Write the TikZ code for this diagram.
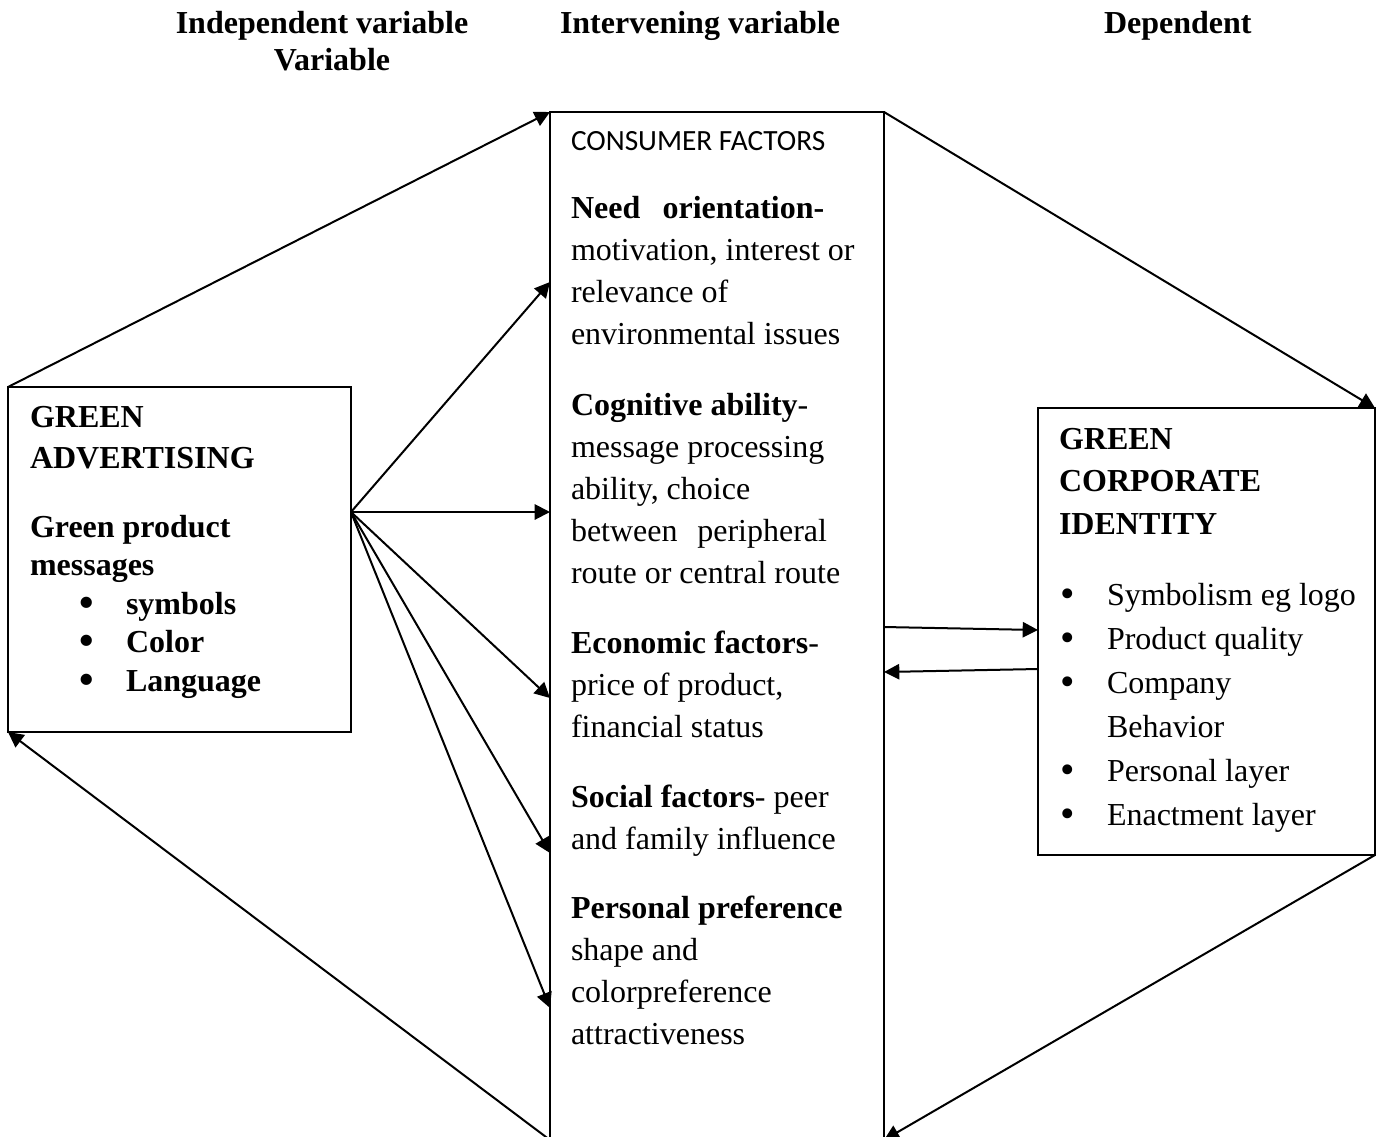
\documentclass[tikz,border=0pt]{standalone}
\usepackage{fontspec}
\setmainfont{Liberation Serif}
\newfontfamily\calibri{Carlito}
\usetikzlibrary{arrows.meta}
\newcommand{\bul}{{\fontsize{31}{31}\selectfont\raisebox{-1.5pt}{•}}}
\begin{document}
\begin{tikzpicture}[x=0.75pt,y=-0.75pt,
  box/.style={draw, line width=1.5pt, inner sep=0pt, outer sep=0pt},
  arr/.style={line width=1.5pt, -{Triangle[length=11.5pt,width=11.5pt]}},
  txt/.style={inner sep=0pt, outer sep=0pt, anchor=base west, font=\fontsize{24}{31.5}\selectfont},
  hdr/.style={inner sep=0pt, outer sep=0pt, anchor=base, font=\fontsize{24}{28}\selectfont\bfseries}]
\useasboundingbox (0,0) rectangle (1377,1136);
\clip (0,0) rectangle (1377,1136);

% boxes
\node[box, minimum width=257.25pt, minimum height=258.75pt] (lb) at (179.5,559.5) {};
\node[box, minimum width=250.5pt, minimum height=771pt] (mid) at (717,626) {};
\node[box, minimum width=252.75pt, minimum height=335.25pt] (rb) at (1206.5,631.5) {};

% headers
\node[hdr] (h1) at (322,33) {Independent variable};
\node[hdr] (h1b) at (332,70) {Variable};
\node[hdr, anchor=base west] (h2) at (560,33) {Intervening variable};
\node[hdr, anchor=base west] (h3) at (1104,33) {Dependent};

% left box text
\node[txt, font=\fontsize{24}{30.75}\selectfont\bfseries] (lt) at (30,427) {\parbox[t]{240pt}{GREEN\\ADVERTISING}};
\node[txt, font=\fontsize{24}{28.9}\selectfont\bfseries] (lm) at (30,537) {\parbox[t]{240pt}{Green product\\messages\\
\hspace*{37pt}\makebox[35pt][l]{\bul}symbols\\
\hspace*{37pt}\makebox[35pt][l]{\bul}Color\\
\hspace*{37pt}\makebox[35pt][l]{\bul}Language}};

% middle box text
\node[txt, font=\fontsize{22}{26}\selectfont\calibri] (cf) at (571,150) {CONSUMER FACTORS};
\node[txt] (p1) at (571,218) {\parbox[t]{240pt}{\makebox[190pt][s]{\textbf{Need orientation-}}\\motivation, interest or\\relevance of\\environmental issues}};
\node[txt] (p2) at (571,415) {\parbox[t]{240pt}{\textbf{Cognitive ability}-\\message processing\\ability, choice\\\makebox[192pt][s]{between peripheral}\\route or central route}};
\node[txt] (p3) at (571,653) {\parbox[t]{240pt}{\textbf{Economic factors}-\\price of product,\\financial status}};
\node[txt] (p4) at (571,807) {\parbox[t]{240pt}{\textbf{Social factors}- peer\\and family influence}};
\node[txt] (p5) at (571,918) {\parbox[t]{240pt}{\textbf{Personal preference}\\shape and\\colorpreference\\attractiveness}};

% right box text
\node[txt, font=\fontsize{24}{31.9}\selectfont\bfseries] (rt) at (1059,449) {\parbox[t]{240pt}{GREEN\\CORPORATE\\IDENTITY}};
\node[txt, font=\fontsize{24}{33}\selectfont] (rl) at (1059,605) {\parbox[t]{240pt}{
\makebox[36pt][l]{\hspace*{0.75pt}\bul}Symbolism eg logo\\
\makebox[36pt][l]{\hspace*{0.75pt}\bul}Product quality\\
\makebox[36pt][l]{\hspace*{0.75pt}\bul}Company\\
\hspace*{36pt}Behavior\\
\makebox[36pt][l]{\hspace*{0.75pt}\bul}Personal layer\\
\makebox[36pt][l]{\hspace*{0.75pt}\bul}Enactment layer}};

% connector end points
\coordinate (fan) at (351,512);
\coordinate (t1) at (550,282);
\coordinate (t2) at (550,512);
\coordinate (t3) at (550,698);
\coordinate (t4) at (550,853);
\coordinate (t5) at (550,1008);
\coordinate (a1) at (884,627);
\coordinate (b1) at (1038,630);
\coordinate (b2) at (1038,669);
\coordinate (a2) at (884,672);

% outer loop
\draw[arr] (lb.north west) -- (mid.north west);
\draw[arr] (mid.north east) -- (rb.north east);
\draw[arr] (rb.south east) -- (mid.south east);
\draw[arr] (mid.south west) -- (lb.south west);

% fan
\draw[arr] (fan) -- (t1);
\draw[arr] (fan) -- (t2);
\draw[arr] (fan) -- (t3);
\draw[arr] (fan) -- (t4);
\draw[arr] (fan) -- (t5);

% middle-right pair
\draw[arr] (a1) -- (b1);
\draw[arr] (b2) -- (a2);
\end{tikzpicture}
\end{document}
